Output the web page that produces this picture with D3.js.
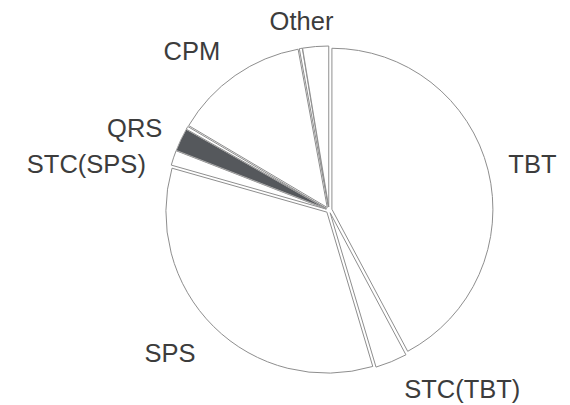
<!DOCTYPE html>
<html>
<head>
<meta charset="utf-8">
<script src="https://cdn.jsdelivr.net/npm/d3@7"></script>
<style>
  body { margin: 0; background: #fff; }
  text { font-family: "Liberation Sans", Arial, sans-serif; }
</style>
</head>
<body>
<div id="chart"></div>
<script>
// slices clockwise from 12 o'clock, values in percent
var categories = ["TBT", "STC(TBT)", "SPS", "STC(SPS)", "QRS", "", "CPM", "", "Other"];
var values = [42.2, 3.2, 34.0, 1.5, 2.3, 0.3, 13.6, 0.3, 2.6];
var fills = ["#fff", "#fff", "#fff", "#fff", "#55585c", "#fff", "#fff", "#fff", "#fff"];

var width = 570, height = 405;
var cx = 329, cy = 210, radius = 161;
var explode = 3, labelRadius = 190;

// small nudges for labels so they sit where the original put them
var nudge = {
    "TBT": [-5, 0],
    "STC(TBT)": [3, 3],
    "SPS": [0, 8],
    "STC(SPS)": [-3, 14],
    "QRS": [5, -1],
    "CPM": [0, -3],
    "Other": [-12, 0]
};

var data = categories.map(function(c, i) {
    return {name: c, value: values[i], fill: fills[i]};
});

var svg = d3.select("#chart").append("svg")
    .attr("width", width)
    .attr("height", height);

var g = svg.append("g")
    .attr("transform", "translate(" + cx + "," + cy + ")");

var pie = d3.pie()
    .sort(null)
    .value(function(d) { return d.value; });

var arc = d3.arc()
    .innerRadius(0)
    .outerRadius(radius);

var arcs = pie(data);

g.selectAll("path")
    .data(arcs)
    .enter().append("path")
    .attr("d", arc)
    .attr("transform", function(d) {
        var a = (d.startAngle + d.endAngle) / 2;
        return "translate(" + (Math.sin(a) * explode) + "," + (-Math.cos(a) * explode) + ")";
    })
    .attr("fill", function(d) { return d.data.fill; })
    .attr("stroke", function(d) { return d.data.fill == "#fff" ? "#8e8e8e" : "#a8a8a8"; })
    .attr("stroke-width", 1)
    .attr("stroke-linejoin", "round");

g.selectAll("text")
    .data(arcs.filter(function(d) { return d.data.name != ""; }))
    .enter().append("text")
    .attr("x", function(d) {
        var a = (d.startAngle + d.endAngle) / 2;
        return Math.sin(a) * labelRadius + (nudge[d.data.name] || [0, 0])[0];
    })
    .attr("y", function(d) {
        var a = (d.startAngle + d.endAngle) / 2;
        return -Math.cos(a) * labelRadius + (nudge[d.data.name] || [0, 0])[1];
    })
    .attr("dy", "0.35em")
    .attr("text-anchor", function(d) {
        var s = Math.sin((d.startAngle + d.endAngle) / 2);
        if (s > 0.3) return "start";
        if (s < -0.3) return "end";
        return "middle";
    })
    .attr("font-size", "25.5px")
    .attr("fill", "#3c3c3c")
    .text(function(d) { return d.data.name; });
</script>
</body>
</html>
